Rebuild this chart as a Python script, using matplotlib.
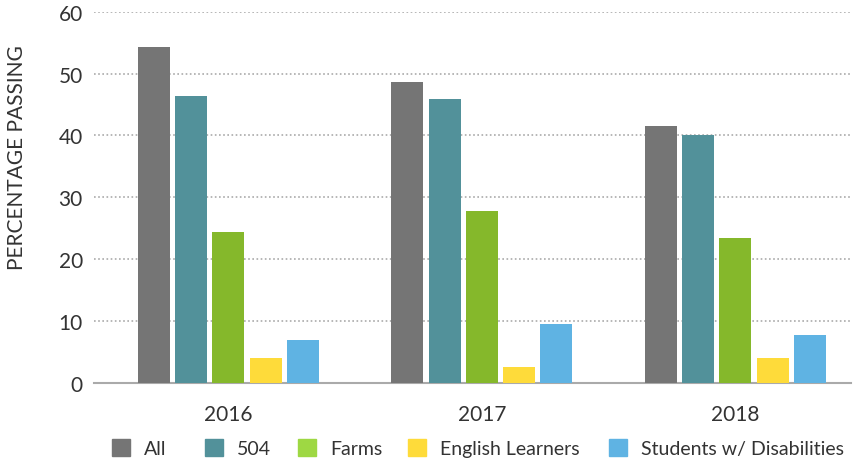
import matplotlib.pyplot as plt
from matplotlib.patches import Patch
import numpy as np

years = ['2016', '2017', '2018']
groups = ['All', '504', 'Farms', 'English Learners', 'Students w/ Disabilities']
all_students = [54.3, 48.7, 41.6]
sec_504 = [46.4, 45.9, 40.1]
farms = [24.4, 27.8, 23.5]
english_learners = [4.0, 2.6, 4.0]
disabilities = [7.0, 9.5, 7.8]

series = [all_students, sec_504, farms, english_learners, disabilities]
colors = ['#757575', '#52919a', '#85b82b', '#fedb3a', '#5fb3e3']
legend_colors = ['#757575', '#52919a', '#9ed843', '#fedb3a', '#5fb3e3']

plt.rcParams['font.family'] = ['Lato', 'DejaVu Sans']
text_col = '#333333'

fig = plt.figure(figsize=(8.56, 4.6), dpi=100)
ax = fig.add_axes([94 / 856, 1 - 384 / 460, (851 - 94) / 856, (384 - 12.7) / 460])

x = np.arange(len(years))
slot = 0.147
width = 0.126
for i, (vals, c) in enumerate(zip(series, colors)):
    ax.bar(x + (i - 2) * slot, vals, width=width, color=c, zorder=3)

ax.set_ylim(0, 60)
ax.set_xlim(-0.53, 2.456)
ax.set_yticks(range(0, 61, 10))
ax.set_xticks(x)
ax.set_xticklabels(years)
ax.tick_params(axis='both', length=0, labelsize=15, colors=text_col)
ax.tick_params(axis='y', pad=8)
ax.tick_params(axis='x', pad=15)

# dotted grid lines, solid baseline
for v in range(10, 61, 10):
    ax.axhline(v, color='#aaaaaa', linestyle=(0, (1, 1.5)), linewidth=1.2, zorder=1)
for s in ['top', 'right', 'left']:
    ax.spines[s].set_visible(False)
ax.spines['bottom'].set_color('#aaaaaa')
ax.spines['bottom'].set_linewidth(1.5)

ax.set_ylabel('PERCENTAGE PASSING', fontsize=15, color=text_col, va='center')
ax.yaxis.set_label_coords(-0.1017, 0.611)

# legend entries placed one by one (fixed column starts like the original)
legend_x = [112, 205, 298, 408, 609]
for lx, c, g in zip(legend_x, legend_colors, groups):
    fig.legend(handles=[Patch(color=c, label=g)], loc='center left',
               bbox_to_anchor=(lx / 856, 1 - 449 / 460), frameon=False,
               fontsize=14, labelcolor=text_col, borderpad=0, borderaxespad=0,
               handlelength=0.93, handleheight=0.97, handletextpad=0.72)

fig.savefig('out.png', dpi=100)
